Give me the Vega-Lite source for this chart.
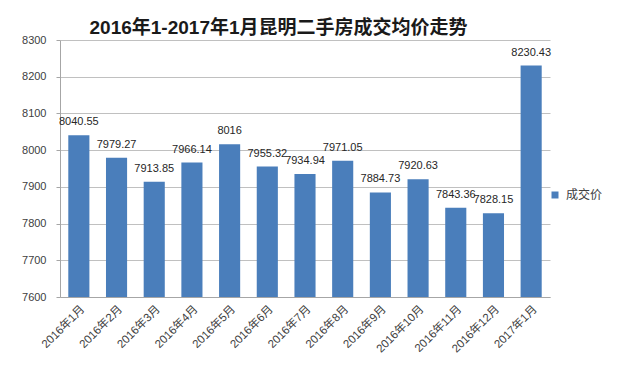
{
  "$schema": "https://vega.github.io/schema/vega-lite/v6.json",
  "autosize": "none",
  "width": 490,
  "height": 257,
  "padding": {"left": 60, "top": 40, "right": 67, "bottom": 80},
  "background": "white",
  "title": {
    "text": "2016年1-2017年1月昆明二手房成交均价走势",
    "anchor": "start",
    "dx": 68,
    "offset": -4,
    "fontSize": 19,
    "fontWeight": "bold",
    "font": "Liberation Sans, Noto Sans CJK SC",
    "color": "#1a1a1a"
  },
  "data": {
    "values": [
      {"month": "2016年1月", "price": 8040.55, "series": "成交价"},
      {"month": "2016年2月", "price": 7979.27, "series": "成交价"},
      {"month": "2016年3月", "price": 7913.85, "series": "成交价"},
      {"month": "2016年4月", "price": 7966.14, "series": "成交价"},
      {"month": "2016年5月", "price": 8016, "series": "成交价"},
      {"month": "2016年6月", "price": 7955.32, "series": "成交价"},
      {"month": "2016年7月", "price": 7934.94, "series": "成交价"},
      {"month": "2016年8月", "price": 7971.05, "series": "成交价"},
      {"month": "2016年9月", "price": 7884.73, "series": "成交价"},
      {"month": "2016年10月", "price": 7920.63, "series": "成交价"},
      {"month": "2016年11月", "price": 7843.36, "series": "成交价"},
      {"month": "2016年12月", "price": 7828.15, "series": "成交价"},
      {"month": "2017年1月", "price": 8230.43, "series": "成交价"}
    ]
  },
  "encoding": {
    "x": {
      "field": "month",
      "type": "nominal",
      "sort": null,
      "scale": {"paddingInner": 0.44, "paddingOuter": 0.22},
      "axis": {
        "title": null,
        "labelAngle": -45,
        "labelFontSize": 11.5,
        "labelFont": "Liberation Sans, Noto Sans CJK SC",
        "labelColor": "#404040",
        "ticks": false,
        "labelPadding": 6,
        "domainColor": "#a6a6a6"
      }
    },
    "y": {
      "field": "price",
      "type": "quantitative",
      "scale": {"domain": [7600, 8300], "nice": false, "zero": false},
      "axis": {
        "title": null,
        "format": "d",
        "values": [7600, 7700, 7800, 7900, 8000, 8100, 8200, 8300],
        "labelFontSize": 11,
        "labelFont": "Liberation Sans",
        "labelColor": "#404040",
        "tickSize": 4,
        "tickColor": "#a6a6a6",
        "labelPadding": 10,
        "domainColor": "#a6a6a6",
        "gridColor": "#c0c0c0"
      }
    }
  },
  "layer": [
    {
      "mark": {"type": "bar", "clip": true},
      "encoding": {
        "color": {
          "field": "series",
          "type": "nominal",
          "scale": {"range": ["#4a7ebb"]},
          "legend": {
            "title": null,
            "orient": "none",
            "legendX": 489,
            "legendY": 149,
            "symbolType": "square",
            "symbolSize": 49,
            "labelFontSize": 12,
            "labelFont": "Noto Sans CJK SC",
            "labelColor": "#404040",
            "labelOffset": 5
          }
        }
      }
    },
    {
      "mark": {"type": "text", "baseline": "bottom", "dy": -8, "fontSize": 11, "font": "Liberation Sans", "color": "#262626"},
      "encoding": {"text": {"field": "price", "type": "quantitative"}}
    }
  ],
  "config": {"view": {"stroke": null}}
}
